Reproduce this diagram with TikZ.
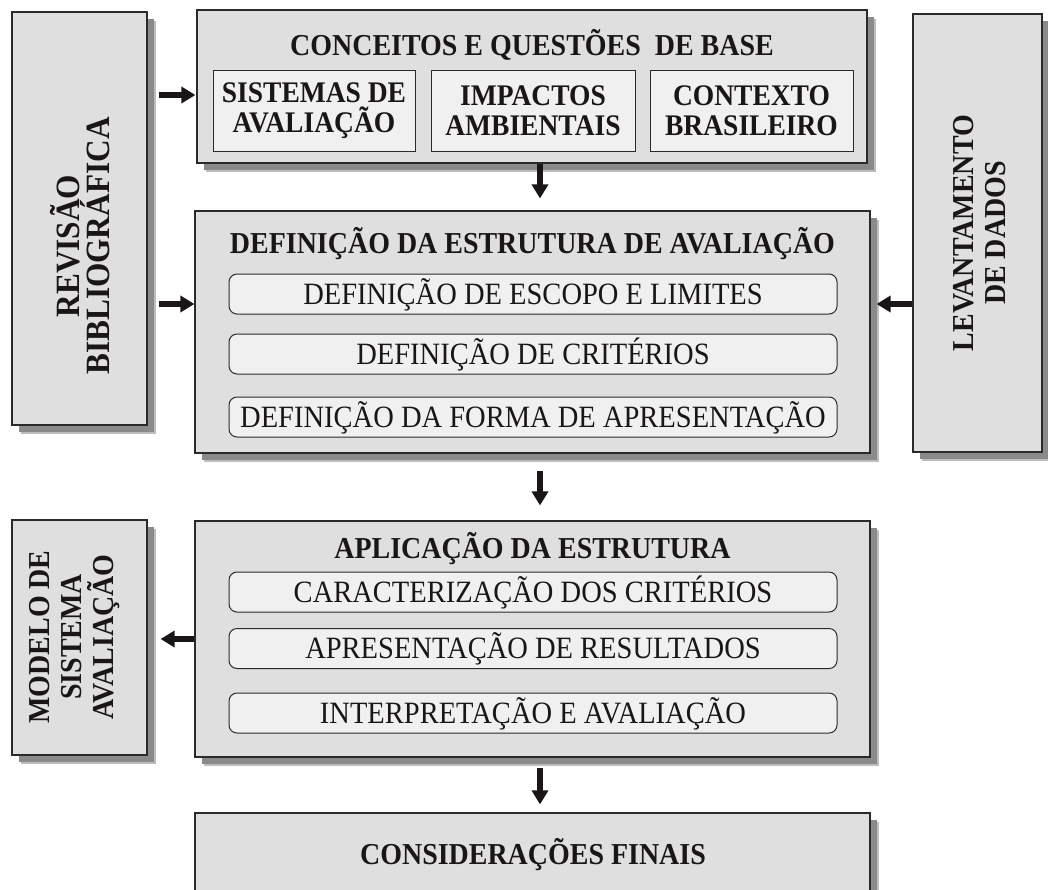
\documentclass[tikz,border=0pt]{standalone}
\usepackage{fontspec}
\setmainfont{Liberation Serif}[FakeStretch=0.92]
\usetikzlibrary{arrows.meta,shadows}

\definecolor{boxfill}{HTML}{DFDFDF}
\definecolor{subfill}{HTML}{F0F0F0}
\definecolor{edge}{HTML}{2A2A2A}
\definecolor{shadowdark}{HTML}{8A8A8A}
\definecolor{shadowlight}{HTML}{BDBDBD}
\definecolor{ink}{HTML}{1A1616}

\tikzset{
  panel/.style={draw=edge, line width=1.2pt, fill=boxfill, inner sep=0pt,
    drop shadow={shadow xshift=9pt, shadow yshift=-9pt, fill=shadowlight, opacity=1},
    drop shadow={shadow xshift=7pt, shadow yshift=-7pt, fill=shadowdark, opacity=1}},
  titletext/.style={anchor=base, inner sep=0pt, text=ink,
    font=\bfseries\fontsize{30.4}{30}\selectfont},
  topicbox/.style={draw=edge, line width=1pt, fill=subfill, inner sep=0pt,
    minimum height=81pt, align=center, text=ink,
    font=\bfseries\fontsize{29.9}{30}\selectfont},
  itembox/.style={draw=edge, line width=1pt, fill=subfill, rounded corners=8pt,
    inner sep=0pt, minimum width=608pt, minimum height=40pt,
    text height=20.5pt, text depth=0pt, text=ink,
    font=\fontsize{31}{30}\selectfont},
  sidelabel/.style={rotate=90, align=center, inner sep=0pt, text=ink,
    font=\bfseries\fontsize{30.4}{32}\selectfont},
  arr/.style={line width=5.5pt, draw=ink,
    -{Triangle[length=14pt,width=16pt]}}
}

\begin{document}
\begin{tikzpicture}[x=1pt,y=-1pt]
\useasboundingbox (0,0) rectangle (1048,889);
\fill[white] (0,0) rectangle (1048,889);

% left column: literature review
\node[panel, minimum width=135pt, minimum height=413pt] (rev) at (79.5,218.5) {};
\node[sidelabel, font=\bfseries\fontsize{34}{30}\selectfont] (revT) at (80,246) {REVISÃO\\BIBLIOGRÁFICA};

% base concepts
\node[panel, minimum width=670pt, minimum height=153pt] (conc) at (532,86.5) {};
\node[titletext] (concT) at (532,55) {CONCEITOS E QUESTÕES\ \ DE BASE};
\node[topicbox, minimum width=202pt] (sis) at (314,110.5) {SISTEMAS DE\\AVALIAÇÃO};
\node[topicbox, minimum width=204pt] (imp) at (533,110.5) {IMPACTOS\\AMBIENTAIS};
\node[topicbox, minimum width=203pt] (ctx) at (751.5,110.5) {CONTEXTO\\BRASILEIRO};

% right column: data survey
\node[panel, minimum width=129pt, minimum height=438pt] (lev) at (977.5,233) {};
\node[sidelabel] (levT) at (980,233) {LEVANTAMENTO\\DE DADOS};

% structure definition
\node[panel, minimum width=675pt, minimum height=242pt] (defn) at (532.5,332) {};
\node[titletext] (defnT) at (532.5,253) {DEFINIÇÃO DA ESTRUTURA DE AVALIAÇÃO};
\node[itembox] (d1) at (533,294) {DEFINIÇÃO DE ESCOPO E LIMITES};
\node[itembox] (d2) at (533,354) {DEFINIÇÃO DE CRITÉRIOS};
\node[itembox] (d3) at (533,417) {DEFINIÇÃO DA FORMA DE APRESENTAÇÃO};

% resulting model
\node[panel, minimum width=135pt, minimum height=235pt] (mod) at (79.5,637.5) {};
\node[sidelabel] (modT) at (75,637) {MODELO DE\\SISTEMA\\AVALIAÇÃO};

% structure application
\node[panel, minimum width=675pt, minimum height=236pt] (apl) at (532.5,639) {};
\node[titletext] (aplT) at (532.5,558) {APLICAÇÃO DA ESTRUTURA};
\node[itembox] (a1) at (533,592) {CARACTERIZAÇÃO DOS CRITÉRIOS};
\node[itembox] (a2) at (533,648.5) {APRESENTAÇÃO DE RESULTADOS};
\node[itembox] (a3) at (533,713) {INTERPRETAÇÃO E AVALIAÇÃO};

% final remarks
\node[panel, minimum width=675pt, minimum height=120pt] (fin) at (532.5,873) {};
\node[titletext] (finT) at (533,864) {CONSIDERAÇÕES FINAIS};

% connectors
\coordinate (col) at (540,0);
\draw[arr] (conc.south -| col) -- ([yshift=12pt]defn.north -| col);
\draw[arr] ([yshift=-17pt]defn.south -| col) -- ([yshift=15pt]apl.north -| col);
\draw[arr] ([yshift=-10pt]apl.south -| col) -- ([yshift=8pt]fin.north -| col);
\draw[arr] ([xshift=11pt,yshift=-8.5pt]rev.east |- conc) -- ([xshift=-1pt,yshift=-8.5pt]conc.west);
\draw[arr] ([xshift=11pt,yshift=28pt]rev.east |- defn) -- ([yshift=28pt]defn.west);
\draw[arr] ([yshift=28pt]lev.west |- defn) -- ([xshift=6pt,yshift=28pt]defn.east);
\draw[arr] (apl.west) -- ([xshift=13pt]mod.east |- apl);
\end{tikzpicture}
\end{document}
